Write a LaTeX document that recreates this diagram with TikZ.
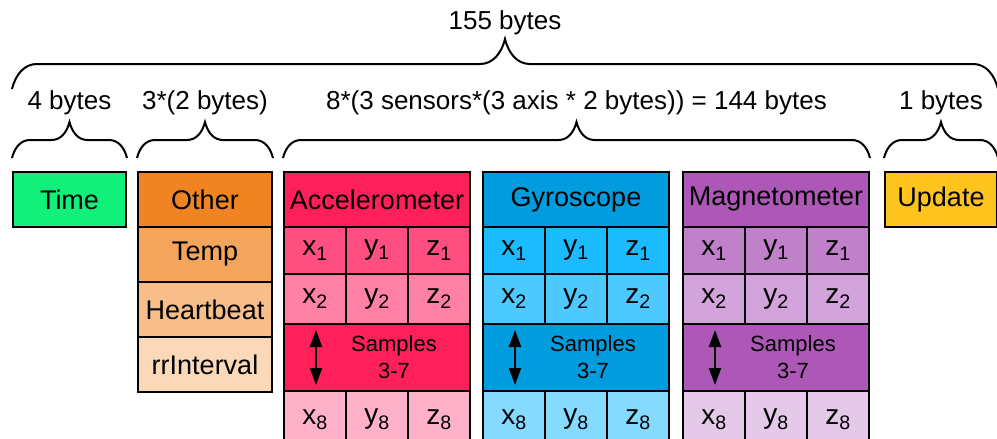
\documentclass[tikz,border=0pt]{standalone}
\usepackage{fontspec}
\setmainfont{Liberation Sans}
\usetikzlibrary{decorations.pathreplacing, arrows.meta}

\definecolor{timeclr}{RGB}{16,240,122}
\definecolor{updclr}{RGB}{255,195,30}
\definecolor{oth0}{RGB}{240,132,34}
\definecolor{oth1}{RGB}{244,164,91}
\definecolor{oth2}{RGB}{247,190,138}
\definecolor{oth3}{RGB}{250,216,184}
\definecolor{acc0}{RGB}{255,31,91}
\definecolor{acc1}{RGB}{255,79,128}
\definecolor{acc2}{RGB}{255,130,166}
\definecolor{acc8}{RGB}{255,177,201}
\definecolor{gyr0}{RGB}{0,156,222}
\definecolor{gyr1}{RGB}{26,188,255}
\definecolor{gyr2}{RGB}{76,201,255}
\definecolor{gyr8}{RGB}{134,218,255}
\definecolor{mag0}{RGB}{173,88,182}
\definecolor{mag1}{RGB}{192,129,202}
\definecolor{mag2}{RGB}{211,163,219}
\definecolor{mag8}{RGB}{228,201,233}

\begin{document}
\begin{tikzpicture}[x=1pt, y=-1pt,
    box/.style={draw=black, line width=2pt, inner sep=0pt, anchor=north west,
      font=\fontsize{27}{30}\selectfont},
    cell/.style={box, minimum width=62pt, font=\fontsize{28}{30}\selectfont},
    bytes/.style={anchor=base, font=\fontsize{26}{30}\selectfont},
    curly/.style={decorate, line width=2pt,
      decoration={brace, amplitude=#1, transform={yscale=2}}},
    updown/.style={line width=2pt,
      {Triangle[width=12pt,length=17pt]}-{Triangle[width=12pt,length=17pt]}}]
    \useasboundingbox (0,0) rectangle (997,439);
    \clip (0,0) rectangle (997,439);

    % Time and Update
    \node (time) [box, fill=timeclr, minimum width=113pt, minimum height=55pt] at (12,171) {Time};
    \node (update) [box, fill=updclr, minimum width=112pt, minimum height=55pt] at (884,171) {Update};

    \begin{scope}[minimum width=134pt, minimum height=55pt] % Other
      \node (other) [box, fill=oth0] at (137,171) {Other};
      \node (temp) [box, fill=oth1] at (137,226) {Temp};
      \node (heart) [box, fill=oth2] at (137,281) {Heartbeat};
      \node (rr) [box, fill=oth3] at (137,336) {rrInterval};
    \end{scope}

    % Sensors
    \foreach \s/\name/\sx in {acc/Accelerometer/283, gyr/Gyroscope/482, mag/Magnetometer/682} {
      \begin{scope}[shift={(\sx,0)}]
        \node (\s) [box, fill=\s0, minimum width=186pt, minimum height=55pt] at (0,171) {\name};
        \foreach \ax [count=\i from 0] in {x,y,z} {
          \node (\s-\ax1) [cell, fill=\s1, minimum height=47pt] at (62*\i,226) {\ax\textsubscript{1}};
          \node (\s-\ax2) [cell, fill=\s2, minimum height=50pt] at (62*\i,273) {\ax\textsubscript{2}};
          \node (\s-\ax8) [cell, fill=\s8, minimum height=57pt] at (62*\i,390) {\ax\textsubscript{8}};
        }
        \node (\s-smp) [box, fill=\s0, minimum width=186pt, minimum height=67pt] at (0,323) {};
        \node (\s-smptxt) [font=\fontsize{22}{27}\selectfont, align=center]
          at ([xshift=17pt]\s-smp.center) {Samples\\3-7};
        \coordinate (\s-up) at (33,330);
        \coordinate (\s-dn) at (33,385);
        \draw [updown] (\s-up) -- (\s-dn);
      \end{scope}
    }

    % Byte counts
    \draw [curly=18pt] ([yshift=13pt]time.north west) -- ([yshift=13pt]time.north east)
      node (lbl-time) [bytes, midway, yshift=49pt] {4 bytes};
    \draw [curly=18pt] ([yshift=13pt]other.north west) -- ([yshift=13pt]other.north east)
      node (lbl-other) [bytes, midway, yshift=49pt] {3*(2 bytes)};
    \draw [curly=18pt] ([yshift=13pt]acc.north west) -- ([yshift=13pt]mag.north east)
      node (lbl-sens) [bytes, midway, yshift=49pt] {8*(3 sensors*(3 axis * 2 bytes)) = 144 bytes};
    \draw [curly=18pt] ([yshift=13pt]update.north west) -- ([yshift=13pt]update.north east)
      node (lbl-upd) [bytes, midway, yshift=49pt] {1 bytes};
    \draw [curly=25pt] ([yshift=82pt]time.north west) -- ([yshift=82pt]update.north east)
      node (lbl-total) [bytes, midway, yshift=60pt] {155 bytes};
\end{tikzpicture}
\end{document}
